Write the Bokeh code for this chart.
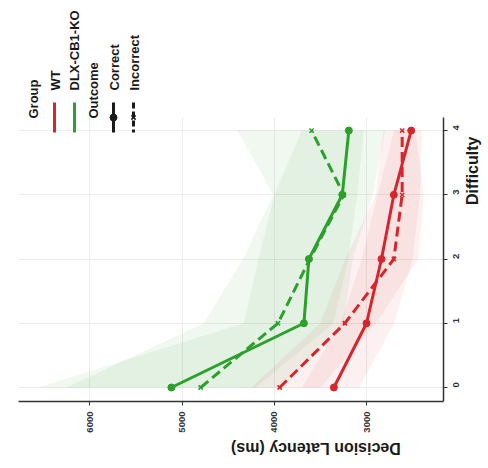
import math
from bokeh.plotting import figure
from bokeh.models import Range1d, FixedTicker, BoxAnnotation
from bokeh.core.properties import value
from bokeh.embed import file_html
from bokeh.resources import INLINE

# ---- data ----
difficulty = [0, 1, 2, 3, 4]
wt_correct = [3354, 3000, 2838, 2704, 2516]
wt_incorrect = [3942, 3235, 2704, 2614, 2614]
ko_correct = [5115, 3679, 3625, 3263, 3192]
ko_incorrect = [4798, 3960, 3614, 3246, 3596]

wt_correct_hi = [3700, 3280, 3050, 2880, 2700]
wt_correct_lo = [3080, 2700, 2500, 2420, 2400]
wt_incorrect_hi = [4250, 3500, 3230, 2900, 2820]
wt_incorrect_lo = [3500, 2900, 2440, 2380, 2470]
ko_correct_hi = [6560, 4330, 4170, 4000, 3700]
ko_correct_lo = [3900, 3250, 3150, 2930, 2800]
ko_incorrect_hi = [6250, 4765, 4340, 4010, 4400]
ko_incorrect_lo = [4200, 3360, 3200, 3100, 3030]

latency_ticks = [3000, 4000, 5000, 6000]
difficulty_ticks = [0, 1, 2, 3, 4]
group_labels = ["WT", "DLX-CB1-KO"]
outcome_labels = ["Correct", "Incorrect"]

RED = "#D7262B"
GREEN = "#2BA02B"
INK = "#1a1a1a"
FONT = value("Liberation Sans")

X_START, X_END = 6772, 2166
Y_START, Y_END = -0.218, 5.9
FRAME_W, FRAME_H = 425, 393
LEFT, TOP = 18, 8

p = figure(width=480, height=460, frame_width=FRAME_W, frame_height=FRAME_H,
           x_range=Range1d(X_START, X_END), y_range=Range1d(Y_START, Y_END),
           y_axis_location="right", output_backend="svg", toolbar_location=None,
           min_border_left=LEFT, min_border_right=37, min_border_top=TOP, min_border_bottom=59)
p.outline_line_color = None

# grid
p.xgrid.ticker = FixedTicker(ticks=latency_ticks)
p.ygrid.ticker = FixedTicker(ticks=difficulty_ticks)
for g in (p.xgrid[0], p.ygrid[0]):
    g.grid_line_color = "#ececec"
    g.grid_line_width = 1

cover = BoxAnnotation(bottom=4.2, fill_color="white", fill_alpha=1.0,
                      line_color=None, level="underlay")
p.add_layout(cover)

# axes
xa = p.xaxis[0]
xa.ticker = FixedTicker(ticks=latency_ticks)
xa.axis_label = "Decision Latency (ms)"
xa.major_label_orientation = math.pi / 2
xa.axis_label_orientation = math.pi
ya = p.yaxis[0]
ya.ticker = FixedTicker(ticks=difficulty_ticks)
ya.axis_label = "Difficulty"
ya.major_label_orientation = math.pi / 2
ya.axis_label_orientation = math.pi / 2
ya.bounds = (Y_START, 4.2)
for a in (xa, ya):
    a.axis_line_color = "#333333"
    a.axis_line_width = 1.5
    a.major_tick_line_color = "#333333"
    a.major_tick_out = 4
    a.major_tick_in = 0
    a.minor_tick_line_color = None
    a.major_label_text_font = "Liberation Sans"
    a.major_label_text_font_style = "bold"
    a.major_label_text_font_size = "9.5px"
    a.major_label_text_color = "#333333"
    a.axis_label_text_font = "Liberation Sans"
    a.axis_label_text_font_style = "bold"
    a.axis_label_text_font_size = "16px"
    a.axis_label_text_color = INK
xa.major_label_standoff = 6
ya.major_label_standoff = 9
xa.axis_label_standoff = 13
ya.axis_label_standoff = 7

# ribbons
for hi, lo, c in [(ko_correct_hi, ko_correct_lo, GREEN), (ko_incorrect_hi, ko_incorrect_lo, GREEN),
                  (wt_correct_hi, wt_correct_lo, RED), (wt_incorrect_hi, wt_incorrect_lo, RED)]:
    p.harea(x1=lo, x2=hi, y=difficulty, fill_color=c, fill_alpha=0.07)

# lines
for vals, c, dash in [(ko_correct, GREEN, "solid"), (ko_incorrect, GREEN, "10 5"),
                      (wt_correct, RED, "solid"), (wt_incorrect, RED, "10 5")]:
    p.line(x=vals, y=difficulty, line_color=c, line_width=3, line_dash=dash)
for vals, c in [(ko_correct, GREEN), (wt_correct, RED)]:
    p.scatter(x=vals, y=difficulty, marker="circle", size=7, fill_color=c, line_color=c)
for vals, c in [(ko_incorrect, GREEN), (wt_incorrect, RED)]:
    p.scatter(x=vals, y=difficulty, marker="x", size=6, line_color=c, line_width=1.5)

# ---- rotated legend (positions given in image pixels) ----
def lx(px):
    return X_START + (px - LEFT) * (X_END - X_START) / FRAME_W

def ly(py):
    return Y_START + (TOP + FRAME_H - py) * (Y_END - Y_START) / FRAME_H

txt = dict(angle=math.pi / 2, text_align="left", text_baseline="middle",
           text_font=FONT, text_font_style="bold", text_font_size="13px", text_color=INK)
p.text(x=[lx(33), lx(93)], y=[ly(118), ly(118)], text=["Group", "Outcome"], **txt)
p.text(x=[lx(55), lx(74), lx(114), lx(134)], y=[ly(90)] * 4,
       text=group_labels + outcome_labels, **txt)

# keys
p.segment(x0=[lx(54)], y0=[ly(102)], x1=[lx(54)], y1=[ly(132)], line_color=RED, line_width=3)
p.segment(x0=[lx(74)], y0=[ly(102)], x1=[lx(74)], y1=[ly(132)], line_color=GREEN, line_width=3)
p.segment(x0=[lx(113)], y0=[ly(102)], x1=[lx(113)], y1=[ly(132)], line_color=INK, line_width=3)
p.segment(x0=[lx(133)], y0=[ly(102)], x1=[lx(133)], y1=[ly(132)], line_color=INK, line_width=3,
          line_dash="6 3")
p.scatter(x=[lx(113)], y=[ly(117)], marker="circle", size=7, fill_color=INK, line_color=INK)
p.scatter(x=[lx(133)], y=[ly(117)], marker="x", size=6, line_color=INK, line_width=1.5)

open("out.html", "w").write(file_html(p, INLINE))
